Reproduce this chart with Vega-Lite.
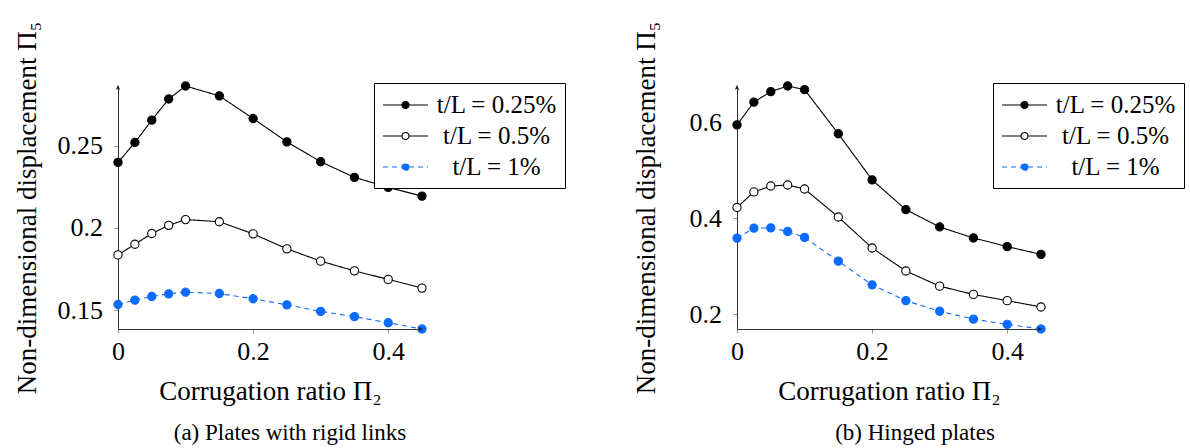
{
  "$schema": "https://vega.github.io/schema/vega-lite/v6.json",
  "padding": {"left": 12, "top": 21, "right": 0, "bottom": 0},
  "background": "white",
  "spacing": 65,
  "config": {
    "view": {"stroke": null},
    "font": "Liberation Serif",
    "axis": {
      "labelFont": "Liberation Serif", "labelFontSize": 26, "labelColor": "black",
      "titleFont": "Liberation Serif", "titleFontSize": 27, "titleFontWeight": "normal", "titleColor": "black",
      "domainColor": "#333", "domainWidth": 1, "tickColor": "#999", "tickSize": 4, "grid": false,
      "labelFlush": false, "labelOverlap": false
    },
    "axisX": {"labelBaseline": "alphabetic", "labelPadding": 26.5, "titleBaseline": "alphabetic", "titleY": 70},
    "axisY": {"labelPadding": 11.5, "titleX": -91, "titleY": 121.5, "titleBaseline": "middle"},
    "title": {"font": "Liberation Serif", "fontSize": 23, "fontWeight": "normal", "color": "black", "frame": "group"}
  },
  "datasets": {
    "a": [
      {"x": 0, "y": 0.2399, "series": "t/L = 0.25%"}, {"x": 0.025, "y": 0.2520, "series": "t/L = 0.25%"}, {"x": 0.05, "y": 0.2656, "series": "t/L = 0.25%"}, {"x": 0.075, "y": 0.2785, "series": "t/L = 0.25%"}, {"x": 0.1, "y": 0.2864, "series": "t/L = 0.25%"}, {"x": 0.15, "y": 0.2804, "series": "t/L = 0.25%"}, {"x": 0.2, "y": 0.2666, "series": "t/L = 0.25%"}, {"x": 0.25, "y": 0.2524, "series": "t/L = 0.25%"}, {"x": 0.3, "y": 0.2403, "series": "t/L = 0.25%"}, {"x": 0.35, "y": 0.2308, "series": "t/L = 0.25%"}, {"x": 0.4, "y": 0.2247, "series": "t/L = 0.25%"}, {"x": 0.45, "y": 0.2194, "series": "t/L = 0.25%"},
      {"x": 0, "y": 0.1836, "series": "t/L = 0.5%"}, {"x": 0.025, "y": 0.1901, "series": "t/L = 0.5%"}, {"x": 0.05, "y": 0.1966, "series": "t/L = 0.5%"}, {"x": 0.075, "y": 0.2016, "series": "t/L = 0.5%"}, {"x": 0.1, "y": 0.2051, "series": "t/L = 0.5%"}, {"x": 0.15, "y": 0.2038, "series": "t/L = 0.5%"}, {"x": 0.2, "y": 0.1964, "series": "t/L = 0.5%"}, {"x": 0.25, "y": 0.1873, "series": "t/L = 0.5%"}, {"x": 0.3, "y": 0.1798, "series": "t/L = 0.5%"}, {"x": 0.35, "y": 0.1739, "series": "t/L = 0.5%"}, {"x": 0.4, "y": 0.1687, "series": "t/L = 0.5%"}, {"x": 0.45, "y": 0.1634, "series": "t/L = 0.5%"},
      {"x": 0, "y": 0.1534, "series": "t/L = 1%"}, {"x": 0.025, "y": 0.1561, "series": "t/L = 1%"}, {"x": 0.05, "y": 0.1583, "series": "t/L = 1%"}, {"x": 0.075, "y": 0.1599, "series": "t/L = 1%"}, {"x": 0.1, "y": 0.1609, "series": "t/L = 1%"}, {"x": 0.15, "y": 0.1601, "series": "t/L = 1%"}, {"x": 0.2, "y": 0.1569, "series": "t/L = 1%"}, {"x": 0.25, "y": 0.1532, "series": "t/L = 1%"}, {"x": 0.3, "y": 0.1492, "series": "t/L = 1%"}, {"x": 0.35, "y": 0.1460, "series": "t/L = 1%"}, {"x": 0.4, "y": 0.1423, "series": "t/L = 1%"}, {"x": 0.45, "y": 0.1385, "series": "t/L = 1%"}
    ],
    "b": [
      {"x": 0, "y": 0.5945, "series": "t/L = 0.25%"}, {"x": 0.025, "y": 0.6419, "series": "t/L = 0.25%"}, {"x": 0.05, "y": 0.6638, "series": "t/L = 0.25%"}, {"x": 0.075, "y": 0.6755, "series": "t/L = 0.25%"}, {"x": 0.1, "y": 0.6679, "series": "t/L = 0.25%"}, {"x": 0.15, "y": 0.576, "series": "t/L = 0.25%"}, {"x": 0.2, "y": 0.480, "series": "t/L = 0.25%"}, {"x": 0.25, "y": 0.418, "series": "t/L = 0.25%"}, {"x": 0.3, "y": 0.382, "series": "t/L = 0.25%"}, {"x": 0.35, "y": 0.359, "series": "t/L = 0.25%"}, {"x": 0.4, "y": 0.341, "series": "t/L = 0.25%"}, {"x": 0.45, "y": 0.325, "series": "t/L = 0.25%"},
      {"x": 0, "y": 0.4226, "series": "t/L = 0.5%"}, {"x": 0.025, "y": 0.4549, "series": "t/L = 0.5%"}, {"x": 0.05, "y": 0.4672, "series": "t/L = 0.5%"}, {"x": 0.075, "y": 0.4693, "series": "t/L = 0.5%"}, {"x": 0.1, "y": 0.4611, "series": "t/L = 0.5%"}, {"x": 0.15, "y": 0.4027, "series": "t/L = 0.5%"}, {"x": 0.2, "y": 0.3382, "series": "t/L = 0.5%"}, {"x": 0.25, "y": 0.2902, "series": "t/L = 0.5%"}, {"x": 0.3, "y": 0.2587, "series": "t/L = 0.5%"}, {"x": 0.35, "y": 0.2415, "series": "t/L = 0.5%"}, {"x": 0.4, "y": 0.2285, "series": "t/L = 0.5%"}, {"x": 0.45, "y": 0.2154, "series": "t/L = 0.5%"},
      {"x": 0, "y": 0.3588, "series": "t/L = 1%"}, {"x": 0.025, "y": 0.3794, "series": "t/L = 1%"}, {"x": 0.05, "y": 0.3801, "series": "t/L = 1%"}, {"x": 0.075, "y": 0.3726, "series": "t/L = 1%"}, {"x": 0.1, "y": 0.3602, "series": "t/L = 1%"}, {"x": 0.15, "y": 0.3108, "series": "t/L = 1%"}, {"x": 0.2, "y": 0.2614, "series": "t/L = 1%"}, {"x": 0.25, "y": 0.2285, "series": "t/L = 1%"}, {"x": 0.3, "y": 0.2065, "series": "t/L = 1%"}, {"x": 0.35, "y": 0.1901, "series": "t/L = 1%"}, {"x": 0.4, "y": 0.1791, "series": "t/L = 1%"}, {"x": 0.45, "y": 0.1695, "series": "t/L = 1%"}
    ]
  },
  "hconcat": [
    {
      "width": 304, "height": 243,
      "title": {"text": "(a) Plates with rigid links", "orient": "bottom", "anchor": "middle", "dx": 20, "offset": 18},
      "data": {"name": "a"},
      "layer": [
        {
          "mark": {"type": "line", "strokeWidth": 1.1},
          "encoding": {
            "x": {"field": "x", "type": "quantitative", "scale": {"domain": [0, 0.45], "nice": false, "zero": false}, "axis": {"values": [0, 0.2, 0.4], "format": ".2~f", "title": "Corrugation ratio Π₂"}},
            "y": {"field": "y", "type": "quantitative", "scale": {"domain": [0.1385, 0.2864], "nice": false, "zero": false}, "axis": {"values": [0.15, 0.2, 0.25], "format": ".2~f", "title": "Non-dimensional displacement Π₅"}},
            "stroke": {"field": "series", "type": "nominal", "scale": {"domain": ["t/L = 0.25%", "t/L = 0.5%", "t/L = 1%"], "range": ["#000000", "#000000", "#0b6bff"]}},
            "strokeDash": {"field": "series", "type": "nominal", "scale": {"domain": ["t/L = 0.25%", "t/L = 0.5%", "t/L = 1%"], "range": [[1, 0], [1, 0], [5, 4]]}}
          }
        },
        {
          "mark": {"type": "point", "shape": "circle", "opacity": 1, "strokeWidth": 1.1, "size": 68},
          "encoding": {
            "x": {"field": "x", "type": "quantitative"},
            "y": {"field": "y", "type": "quantitative"},
            "fill": {"field": "series", "type": "nominal", "scale": {"domain": ["t/L = 0.25%", "t/L = 0.5%", "t/L = 1%"], "range": ["#000000", "#ffffff", "#0b6bff"]},
              "legend": {
                "title": null, "orient": "none", "legendX": 256, "legendY": -3,
                "fillColor": "white", "strokeColor": "black", "padding": 8, "cornerRadius": 0,
                "labelFont": "Liberation Serif", "labelFontSize": 25, "labelColor": "black",
                "labelAlign": "center", "labelOffset": 86.5, "rowPadding": 4, "symbolSize": 676,
                "symbolType": "M-1,0L0.46,0M1,0L2.46,0M1,0A0.27,0.27,0,1,1,0.46,0A0.27,0.27,0,1,1,1,0Z",
                "symbolStrokeWidth": 1.1, "symbolOpacity": 1,
                "encode": {"symbols": {"update": {"stroke": {"signal": "datum.value === 't/L = 1%' ? '#0b6bff' : '#000000'"}, "strokeDash": {"signal": "datum.value === 't/L = 1%' ? [4, 4] : [1, 0]"}, "strokeWidth": {"value": 1.1}, "opacity": {"value": 1}}}}
              }},
            "stroke": {"field": "series", "type": "nominal"}
          }
        },
        {
          "data": {"values": [{}]},
          "mark": {"type": "point", "shape": "M0,-0.3L-0.55,1L0,0.7L0.55,1Z", "filled": true, "color": "#222222", "size": 64, "opacity": 1},
          "encoding": {"x": {"datum": 0}, "y": {"datum": 0.2864}}
        },
        {
          "data": {"values": [{}]},
          "mark": {"type": "point", "shape": "M0.3,0L-1,-0.55L-0.7,0L-1,0.55Z", "filled": true, "color": "#222222", "size": 64, "opacity": 1},
          "encoding": {"x": {"datum": 0.45}, "y": {"datum": 0.1385}}
        }
      ]
    },
    {
      "width": 304, "height": 243,
      "title": {"text": "(b) Hinged plates", "orient": "bottom", "anchor": "middle", "dx": 26, "offset": 18},
      "data": {"name": "b"},
      "layer": [
        {
          "mark": {"type": "line", "strokeWidth": 1.1},
          "encoding": {
            "x": {"field": "x", "type": "quantitative", "scale": {"domain": [0, 0.45], "nice": false, "zero": false}, "axis": {"values": [0, 0.2, 0.4], "format": ".2~f", "title": "Corrugation ratio Π₂"}},
            "y": {"field": "y", "type": "quantitative", "scale": {"domain": [0.1695, 0.6755], "nice": false, "zero": false}, "axis": {"values": [0.2, 0.4, 0.6], "format": ".2~f", "title": "Non-dimensional displacement Π₅"}},
            "stroke": {"field": "series", "type": "nominal", "scale": {"domain": ["t/L = 0.25%", "t/L = 0.5%", "t/L = 1%"], "range": ["#000000", "#000000", "#0b6bff"]}},
            "strokeDash": {"field": "series", "type": "nominal", "scale": {"domain": ["t/L = 0.25%", "t/L = 0.5%", "t/L = 1%"], "range": [[1, 0], [1, 0], [5, 4]]}}
          }
        },
        {
          "mark": {"type": "point", "shape": "circle", "opacity": 1, "strokeWidth": 1.1, "size": 68},
          "encoding": {
            "x": {"field": "x", "type": "quantitative"},
            "y": {"field": "y", "type": "quantitative"},
            "fill": {"field": "series", "type": "nominal", "scale": {"domain": ["t/L = 0.25%", "t/L = 0.5%", "t/L = 1%"], "range": ["#000000", "#ffffff", "#0b6bff"]},
              "legend": {
                "title": null, "orient": "none", "legendX": 256, "legendY": -3,
                "fillColor": "white", "strokeColor": "black", "padding": 8, "cornerRadius": 0,
                "labelFont": "Liberation Serif", "labelFontSize": 25, "labelColor": "black",
                "labelAlign": "center", "labelOffset": 86.5, "rowPadding": 4, "symbolSize": 676,
                "symbolType": "M-1,0L0.46,0M1,0L2.46,0M1,0A0.27,0.27,0,1,1,0.46,0A0.27,0.27,0,1,1,1,0Z",
                "symbolStrokeWidth": 1.1, "symbolOpacity": 1,
                "encode": {"symbols": {"update": {"stroke": {"signal": "datum.value === 't/L = 1%' ? '#0b6bff' : '#000000'"}, "strokeDash": {"signal": "datum.value === 't/L = 1%' ? [4, 4] : [1, 0]"}, "strokeWidth": {"value": 1.1}, "opacity": {"value": 1}}}}
              }},
            "stroke": {"field": "series", "type": "nominal"}
          }
        },
        {
          "data": {"values": [{}]},
          "mark": {"type": "point", "shape": "M0,-0.3L-0.55,1L0,0.7L0.55,1Z", "filled": true, "color": "#222222", "size": 64, "opacity": 1},
          "encoding": {"x": {"datum": 0}, "y": {"datum": 0.6755}}
        },
        {
          "data": {"values": [{}]},
          "mark": {"type": "point", "shape": "M0.3,0L-1,-0.55L-0.7,0L-1,0.55Z", "filled": true, "color": "#222222", "size": 64, "opacity": 1},
          "encoding": {"x": {"datum": 0.45}, "y": {"datum": 0.1695}}
        }
      ]
    }
  ],
  "resolve": {
    "scale": {"fill": "independent", "stroke": "independent", "strokeDash": "independent"},
    "legend": {"fill": "independent", "stroke": "independent", "strokeDash": "independent"}
  }
}
